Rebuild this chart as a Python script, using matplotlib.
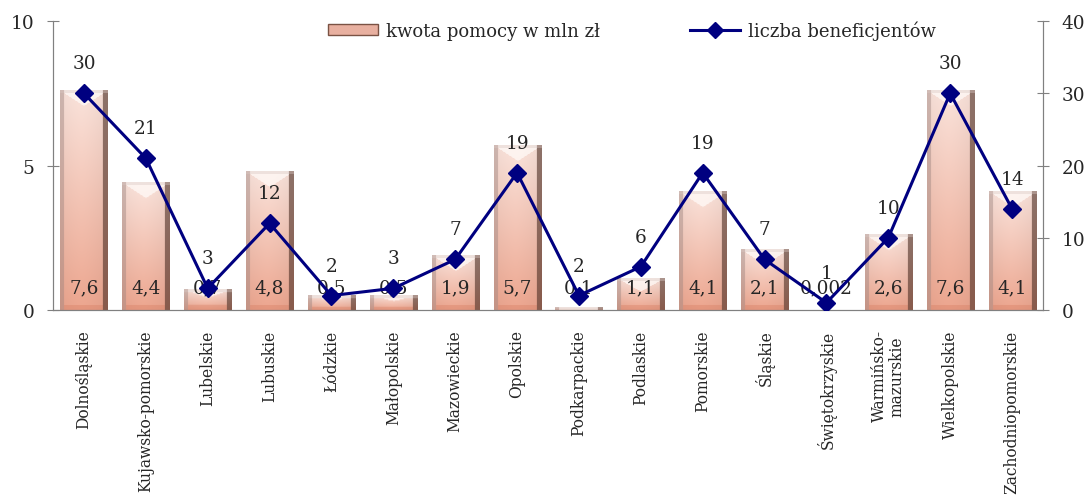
import numpy as np
import matplotlib
matplotlib.use("Agg")
import matplotlib.pyplot as plt
from matplotlib.patches import Rectangle
from matplotlib.lines import Line2D

# data
regions = ["Dolnośląskie", "Kujawsko-pomorskie", "Lubelskie", "Lubuskie", "Łódzkie",
           "Małopolskie", "Mazowieckie", "Opolskie", "Podkarpackie", "Podlaskie",
           "Pomorskie", "Śląskie", "Świętokrzyskie", "Warmińsko-\nmazurskie",
           "Wielkopolskie", "Zachodniopomorskie"]
kwota = [7.6, 4.4, 0.7, 4.8, 0.5, 0.5, 1.9, 5.7, 0.1, 1.1, 4.1, 2.1, 0.002, 2.6, 7.6, 4.1]
kwota_labels = ["7,6", "4,4", "0,7", "4,8", "0,5", "0,5", "1,9", "5,7", "0,1", "1,1",
                "4,1", "2,1", "0,002", "2,6", "7,6", "4,1"]
beneficjenci = [30, 21, 3, 12, 2, 3, 7, 19, 2, 6, 19, 7, 1, 10, 30, 14]

plt.rcParams['font.family'] = ['DejaVu Serif']
FS = 13.3
AXC = "#808080"
TXT = "#262626"
NAVY = "#000080"


def bar_texture(nrows, ncols=47):
    # bevelled salmon bar, built in pixel rows
    nrows = max(nrows, 2)
    y = np.linspace(1, 0, nrows)[:, None]   # 1 top, 0 bottom
    x = np.linspace(0, 1, ncols)[None, :]
    top = np.array([0.98, 0.89, 0.86])
    bot = np.array([0.91, 0.57, 0.46])
    img = bot + (top - bot) * (0.25 + 0.75 * y[..., None])
    img = np.broadcast_to(img, (nrows, ncols, 3)).copy()
    shade = 1 - 0.12 * np.abs(x - 0.45) ** 1.5
    img *= shade[..., None]
    xi = np.arange(ncols)[None, :]
    yi = np.arange(nrows)[:, None]
    full = np.ones((nrows, ncols), bool)
    c = (ncols - 1) / 2
    bev = min(12, nrows // 3)
    bevb = min(5, nrows // 4)
    side = 5
    # right dark edge
    mright = (xi >= ncols - side) & full
    img[mright] = img[mright] * 0.4 + np.array([0.30, 0.18, 0.14]) * 0.6
    # left greyish edge
    mleft = (xi < side - 1) & full
    img[mleft] = img[mleft] * 0.55 + np.array([0.62, 0.52, 0.50]) * 0.45
    # top bevel: light band plus white V
    if bev > 0:
        depth = np.maximum(3, bev * 1.3 * (1 - np.abs(xi - c) / c))
        mtop = (yi < depth) & (xi >= side - 1) & (xi < ncols - side) & full
        img[mtop] = img[mtop] * 0.25 + np.array([1.0, 0.98, 0.97]) * 0.75
        band = (yi < 3) & full
        img[band] = img[band] * 0.6 + np.array([0.85, 0.78, 0.76]) * 0.4
    # bottom darker band
    if bevb > 0:
        mbot = (yi >= nrows - bevb) & (xi >= side - 1) & (xi < ncols - side) & full
        img[mbot] = img[mbot] * 0.7 + np.array([0.82, 0.45, 0.34]) * 0.3
    return np.clip(img, 0, 1)


fig = plt.figure(figsize=(10.91, 5.02), dpi=100)
ax = fig.add_axes([0.0486, 0.3805, 0.9074, 0.5755])
ax2 = ax.twinx()

x = np.arange(len(regions))
w = 0.76
ax.set_xlim(-0.5, len(regions) - 0.5)
ax.set_ylim(0, 10)
ax2.set_ylim(0, 40)

px_per_unit = ax.bbox.height / 10
for xi_, v in zip(x, kwota):
    nrows = int(round(v * px_per_unit))
    if nrows < 2:
        continue
    ax.imshow(bar_texture(nrows), extent=(xi_ - w / 2, xi_ + w / 2, 0, v),
              aspect="auto", interpolation="bilinear", zorder=2)
ax.set_xlim(-0.5, len(regions) - 0.5)
ax.set_ylim(0, 10)

for xi_, lab in zip(x, kwota_labels):
    ax.text(xi_, 0.8, lab, ha="center", va="center", fontsize=FS, color=TXT, zorder=3)

ax2.plot(x, beneficjenci, color=NAVY, lw=2.2, marker="D", markersize=9.5, zorder=4)
for xi_, b in zip(x, beneficjenci):
    ax2.text(xi_, b + 4.15, str(b), ha="center", va="center", fontsize=FS, color=TXT, zorder=5)

ax.set_zorder(1)
ax2.set_zorder(2)
ax.patch.set_visible(False)

# axes styling
for a in (ax, ax2):
    a.spines["top"].set_visible(False)
    for s in ("left", "right", "bottom"):
        a.spines[s].set_color(AXC)
ax.set_yticks([0, 5, 10])
ax2.set_yticks([0, 10, 20, 30, 40])
ax.tick_params(axis="y", direction="inout", length=9, color=AXC, labelsize=FS,
               labelcolor=TXT, pad=9)
ax2.tick_params(axis="y", direction="inout", length=9, color=AXC, labelsize=FS,
                labelcolor=TXT, pad=9)
ax.set_xticks(np.arange(len(regions) + 1) - 0.5)
ax.set_xticklabels([])
ax.tick_params(axis="x", direction="inout", length=9, color=AXC)
ax.set_xticks(x, minor=True)
ax.set_xticklabels(regions, minor=True, rotation=90, fontsize=11.2, color=TXT,
                   va="top", ha="center", linespacing=1.0)
ax.tick_params(axis="x", which="minor", length=0, pad=14)
ax2.set_xticks([])

# legend
leg_bar = Rectangle((0, 0), 1, 1, facecolor="#e8b0a0", edgecolor="#7a5244")
leg_line = Line2D([], [], color=NAVY, lw=2.2, marker="D", markersize=8.5)
fig.legend([leg_bar, leg_line], ["kwota pomocy w mln zł", "liczba beneficjentów"],
           loc="center", bbox_to_anchor=(0.579, 0.938), ncol=2, frameon=False,
           fontsize=13, handlelength=2.8, handleheight=0.6, columnspacing=5.0,
           handletextpad=0.4, labelcolor=TXT)

fig.savefig("out.png", dpi=100)
